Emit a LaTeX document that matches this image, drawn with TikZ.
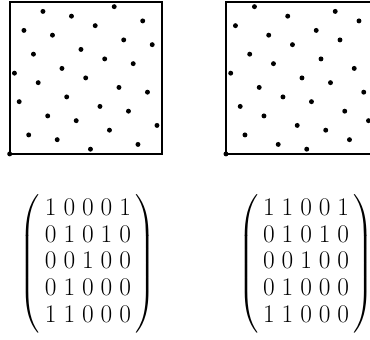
\documentclass[tikz,border=0pt]{standalone}
\usepackage{fix-cm}
\usepackage{amsmath}
\usetikzlibrary{calc}

\begin{document}
\begin{tikzpicture}[every node/.style={font=\fontsize{19}{20}\selectfont}]
\useasboundingbox (-0.255,-4.87) rectangle (9.48,4.05);
\coordinate (Lcorner) at (0,0);
\coordinate (Rcorner) at (5.69,0);

\draw[line width=1.6pt,black] (Lcorner) rectangle ($(Lcorner)+(4,4)$);
\draw[line width=1.6pt,black] (Rcorner) rectangle ($(Rcorner)+(4,4)$);

\foreach \y [count=\i from 0] in {0,17,11,26,4,21,15,30,8,25,3,18,12,29,7,22,16,1,27,10,20,5,31,14,24,9,19,2,28,13,23,6}
    \fill ($(Lcorner)+(\i/8,\y/8)$) circle (1.85pt);
\foreach \y [count=\i from 0] in {0,17,27,10,4,21,31,14,8,25,19,2,12,29,23,6,16,1,11,26,20,5,15,30,24,9,3,18,28,13,7,22}
    \fill ($(Rcorner)+(\i/8,\y/8)$) circle (1.85pt);

\node (Lmatrix) at (2.06,-2.88) {$\setlength{\arraycolsep}{2.6pt}\left(\hspace{1pt}\begin{array}{ccccc}
    1&0&0&0&1\\ 0&1&0&1&0\\ 0&0&1&0&0\\ 0&1&0&0&0\\ 1&1&0&0&0
\end{array}\hspace{1pt}\right)$};
\node (Rmatrix) at (7.8,-2.88) {$\setlength{\arraycolsep}{2.6pt}\left(\hspace{1pt}\begin{array}{ccccc}
    1&1&0&0&1\\ 0&1&0&1&0\\ 0&0&1&0&0\\ 0&1&0&0&0\\ 1&1&0&0&0
\end{array}\hspace{1pt}\right)$};
\end{tikzpicture}
\end{document}
